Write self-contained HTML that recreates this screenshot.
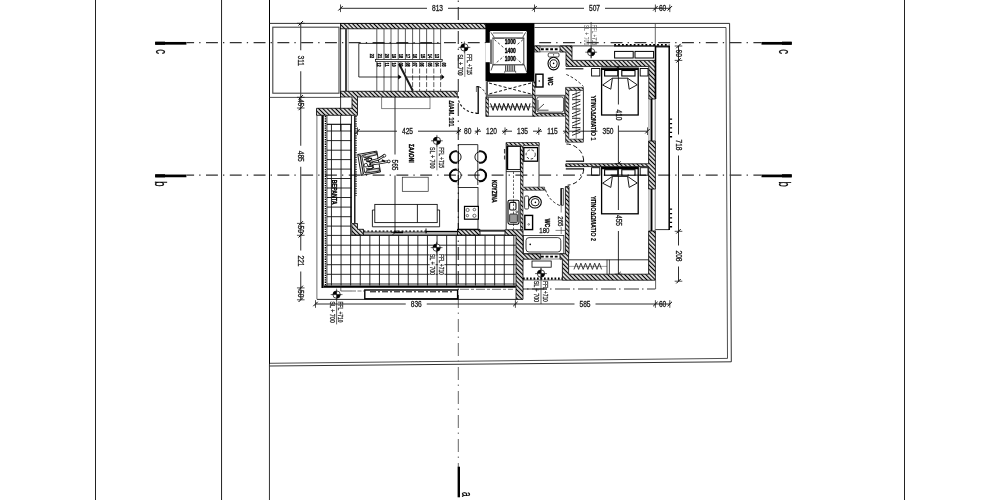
<!DOCTYPE html>
<html><head><meta charset="utf-8"><title>Floor plan</title>
<style>
html,body{margin:0;padding:0;background:#fff;}
body{width:1000px;height:500px;overflow:hidden;}
svg{display:block;filter:grayscale(1);font-family:"Liberation Sans",sans-serif;}
</style></head><body>
<svg width="1000" height="500" viewBox="0 0 1000 500">
<defs>
<pattern id="h" width="3" height="3" patternUnits="userSpaceOnUse" patternTransform="rotate(-45)">
<rect width="3" height="3" fill="#fff"/><line x1="1.5" y1="0" x2="1.5" y2="3" stroke="#000" stroke-width="1.3"/>
</pattern>
</defs>
<rect width="1000" height="500" fill="#fff"/>
<line x1="95.5" y1="0" x2="95.5" y2="500" stroke="#222" stroke-width="1" />
<line x1="221.55" y1="0" x2="221.55" y2="500" stroke="#222" stroke-width="1" />
<line x1="269.5" y1="0" x2="269.5" y2="364" stroke="#000" stroke-width="1" />
<line x1="269.45" y1="364" x2="269.45" y2="500" stroke="#333" stroke-width="1.0" />
<line x1="904.5" y1="0" x2="904.5" y2="500" stroke="#222" stroke-width="1" />
<path d="M269.5 23.4 L729.6 23.4 L731.3 361.8 L269.5 366" stroke="#1a1a1a" stroke-width="0.9" fill="none" />
<path d="M534.5 27.5 L726 27.5 L727.5 358.4 L269.5 363.3" stroke="#222" stroke-width="0.8" fill="none" />
<line x1="655.3" y1="23.3" x2="655.3" y2="46" stroke="#444" stroke-width="0.8" />
<line x1="186.5" y1="42.5" x2="761.5" y2="42.5" stroke="#333" stroke-width="1.25" stroke-dasharray="11.9 5.1 1.3 5.5" stroke-dashoffset="4.3"/>
<line x1="155.2" y1="43.3" x2="186.4" y2="43.3" stroke="#000" stroke-width="2.7" />
<line x1="155.2" y1="43.2" x2="165" y2="43.2" stroke="#000" stroke-width="3.1" />
<line x1="761.5" y1="43.3" x2="791.7" y2="43.3" stroke="#000" stroke-width="2.7" />
<line x1="782" y1="43.2" x2="791.7" y2="43.2" stroke="#000" stroke-width="3.1" />
<line x1="186.5" y1="175.1" x2="761.5" y2="175.1" stroke="#333" stroke-width="1.25" stroke-dasharray="11.9 5.1 1.3 5.5" stroke-dashoffset="4.3"/>
<line x1="155.2" y1="175.9" x2="186.4" y2="175.9" stroke="#000" stroke-width="2.7" />
<line x1="155.2" y1="175.79999999999998" x2="165" y2="175.79999999999998" stroke="#000" stroke-width="3.1" />
<line x1="761.5" y1="175.9" x2="791.7" y2="175.9" stroke="#000" stroke-width="2.7" />
<line x1="782" y1="175.79999999999998" x2="791.7" y2="175.79999999999998" stroke="#000" stroke-width="3.1" />
<text transform="translate(161.3 51.5) rotate(90) scale(0.6 1)" font-size="15.8" text-anchor="middle" fill="#000" stroke="#000" stroke-width="0.3" font-weight="normal" dy="0.36em">c</text>
<text transform="translate(785 51.6) rotate(90) scale(0.6 1)" font-size="15.8" text-anchor="middle" fill="#000" stroke="#000" stroke-width="0.3" font-weight="normal" dy="0.36em">c</text>
<text transform="translate(160.7 184) rotate(90) scale(0.6 1)" font-size="15.8" text-anchor="middle" fill="#000" stroke="#000" stroke-width="0.3" font-weight="normal" dy="0.36em">b</text>
<text transform="translate(784.6 184.2) rotate(90) scale(0.6 1)" font-size="15.8" text-anchor="middle" fill="#000" stroke="#000" stroke-width="0.3" font-weight="normal" dy="0.36em">b</text>
<line x1="458.3" y1="0" x2="458.3" y2="300" stroke="#444" stroke-width="1.2" stroke-dasharray="13 4.5 1.5 5" stroke-dashoffset="17"/>
<line x1="458.3" y1="300" x2="458.3" y2="467" stroke="#666" stroke-width="1.0" stroke-dasharray="13 4.5 1.5 5" stroke-dashoffset="5"/>
<line x1="458.8" y1="466.7" x2="458.8" y2="497.3" stroke="#000" stroke-width="2.4" />
<text transform="translate(467.3 494.4) rotate(90) scale(0.58 1)" font-size="14.5" text-anchor="middle" fill="#000" stroke="#000" stroke-width="0.3" font-weight="normal" dy="0.36em">a</text>
<line x1="340.5" y1="8.3" x2="427.0" y2="8.3" stroke="#222" stroke-width="0.95" />
<line x1="448.0" y1="8.3" x2="584.0" y2="8.3" stroke="#222" stroke-width="0.95" />
<line x1="605.0" y1="8.3" x2="662.6" y2="8.3" stroke="#222" stroke-width="0.95" />
<line x1="662.6" y1="8.3" x2="670" y2="8.3" stroke="#222" stroke-width="0.95" />
<line x1="338.3" y1="10.5" x2="342.7" y2="6.1000000000000005" stroke="#000" stroke-width="1.0" />
<line x1="340.5" y1="4.500000000000001" x2="340.5" y2="12.100000000000001" stroke="#222" stroke-width="0.8" />
<line x1="532.3" y1="10.5" x2="536.7" y2="6.1000000000000005" stroke="#000" stroke-width="1.0" />
<line x1="534.5" y1="4.500000000000001" x2="534.5" y2="12.100000000000001" stroke="#222" stroke-width="0.8" />
<line x1="653.1999999999999" y1="10.5" x2="657.6" y2="6.1000000000000005" stroke="#000" stroke-width="1.0" />
<line x1="655.4" y1="4.500000000000001" x2="655.4" y2="12.100000000000001" stroke="#222" stroke-width="0.8" />
<line x1="667.5999999999999" y1="10.5" x2="672.0" y2="6.1000000000000005" stroke="#000" stroke-width="1.0" />
<line x1="669.8" y1="4.500000000000001" x2="669.8" y2="12.100000000000001" stroke="#222" stroke-width="0.8" />
<text transform="translate(437.5 8.100000000000001) scale(0.8 1)" font-size="8.3" text-anchor="middle" fill="#1a1a1a" stroke="#1a1a1a" stroke-width="0.3" font-weight="normal" dy="0.36em">813</text>
<text transform="translate(594.5 8.100000000000001) scale(0.8 1)" font-size="8.3" text-anchor="middle" fill="#1a1a1a" stroke="#1a1a1a" stroke-width="0.3" font-weight="normal" dy="0.36em">507</text>
<text transform="translate(662.6 8.100000000000001) scale(0.8 1)" font-size="8.3" text-anchor="middle" fill="#1a1a1a" stroke="#1a1a1a" stroke-width="0.3" font-weight="normal" dy="0.36em">60</text>
<line x1="315.5" y1="304" x2="405.75" y2="304" stroke="#222" stroke-width="0.95" />
<line x1="426.75" y1="304" x2="574.5" y2="304" stroke="#222" stroke-width="0.95" />
<line x1="595.5" y1="304" x2="662.6" y2="304" stroke="#222" stroke-width="0.95" />
<line x1="662.6" y1="304" x2="670" y2="304" stroke="#222" stroke-width="0.95" />
<line x1="313.3" y1="306.2" x2="317.7" y2="301.8" stroke="#000" stroke-width="1.0" />
<line x1="315.5" y1="300.2" x2="315.5" y2="307.8" stroke="#222" stroke-width="0.8" />
<line x1="513.1999999999999" y1="306.2" x2="517.6" y2="301.8" stroke="#000" stroke-width="1.0" />
<line x1="515.4" y1="300.2" x2="515.4" y2="307.8" stroke="#222" stroke-width="0.8" />
<line x1="653.1999999999999" y1="306.2" x2="657.6" y2="301.8" stroke="#000" stroke-width="1.0" />
<line x1="655.4" y1="300.2" x2="655.4" y2="307.8" stroke="#222" stroke-width="0.8" />
<line x1="667.5999999999999" y1="306.2" x2="672.0" y2="301.8" stroke="#000" stroke-width="1.0" />
<line x1="669.8" y1="300.2" x2="669.8" y2="307.8" stroke="#222" stroke-width="0.8" />
<text transform="translate(416.25 303.8) scale(0.8 1)" font-size="8.3" text-anchor="middle" fill="#1a1a1a" stroke="#1a1a1a" stroke-width="0.3" font-weight="normal" dy="0.36em">836</text>
<text transform="translate(585 303.8) scale(0.8 1)" font-size="8.3" text-anchor="middle" fill="#1a1a1a" stroke="#1a1a1a" stroke-width="0.3" font-weight="normal" dy="0.36em">585</text>
<text transform="translate(662.6 303.8) scale(0.8 1)" font-size="8.3" text-anchor="middle" fill="#1a1a1a" stroke="#1a1a1a" stroke-width="0.3" font-weight="normal" dy="0.36em">60</text>
<line x1="300.75" y1="23.3" x2="300.75" y2="50.25" stroke="#222" stroke-width="0.95" />
<line x1="300.75" y1="71.25" x2="300.75" y2="102.6" stroke="#222" stroke-width="0.95" />
<line x1="300.75" y1="102.6" x2="300.75" y2="145.75" stroke="#222" stroke-width="0.95" />
<line x1="300.75" y1="166.75" x2="300.75" y2="229.3" stroke="#222" stroke-width="0.95" />
<line x1="300.75" y1="229.3" x2="300.75" y2="250.5" stroke="#222" stroke-width="0.95" />
<line x1="300.75" y1="271.5" x2="300.75" y2="293.8" stroke="#222" stroke-width="0.95" />
<line x1="300.75" y1="293.8" x2="300.75" y2="299.8" stroke="#222" stroke-width="0.95" />
<line x1="298.55" y1="25.5" x2="302.95" y2="21.1" stroke="#000" stroke-width="1.0" />
<line x1="296.95" y1="23.3" x2="304.55" y2="23.3" stroke="#222" stroke-width="0.8" />
<line x1="298.55" y1="99.5" x2="302.95" y2="95.1" stroke="#000" stroke-width="1.0" />
<line x1="296.95" y1="97.3" x2="304.55" y2="97.3" stroke="#222" stroke-width="0.8" />
<line x1="298.55" y1="110.2" x2="302.95" y2="105.8" stroke="#000" stroke-width="1.0" />
<line x1="296.95" y1="108" x2="304.55" y2="108" stroke="#222" stroke-width="0.8" />
<line x1="298.55" y1="225.6" x2="302.95" y2="221.20000000000002" stroke="#000" stroke-width="1.0" />
<line x1="296.95" y1="223.4" x2="304.55" y2="223.4" stroke="#222" stroke-width="0.8" />
<line x1="298.55" y1="237.5" x2="302.95" y2="233.10000000000002" stroke="#000" stroke-width="1.0" />
<line x1="296.95" y1="235.3" x2="304.55" y2="235.3" stroke="#222" stroke-width="0.8" />
<line x1="298.55" y1="290.09999999999997" x2="302.95" y2="285.7" stroke="#000" stroke-width="1.0" />
<line x1="296.95" y1="287.9" x2="304.55" y2="287.9" stroke="#222" stroke-width="0.8" />
<line x1="298.55" y1="302.0" x2="302.95" y2="297.6" stroke="#000" stroke-width="1.0" />
<line x1="296.95" y1="299.8" x2="304.55" y2="299.8" stroke="#222" stroke-width="0.8" />
<text transform="translate(300.95 60.75) rotate(90) scale(0.8 1)" font-size="8.3" text-anchor="middle" fill="#1a1a1a" stroke="#1a1a1a" stroke-width="0.3" font-weight="normal" dy="0.36em">311</text>
<text transform="translate(300.95 102.6) rotate(90) scale(0.8 1)" font-size="8.3" text-anchor="middle" fill="#1a1a1a" stroke="#1a1a1a" stroke-width="0.3" font-weight="normal" dy="0.36em">45</text>
<text transform="translate(300.95 156.25) rotate(90) scale(0.8 1)" font-size="8.3" text-anchor="middle" fill="#1a1a1a" stroke="#1a1a1a" stroke-width="0.3" font-weight="normal" dy="0.36em">485</text>
<text transform="translate(300.95 229.3) rotate(90) scale(0.8 1)" font-size="8.3" text-anchor="middle" fill="#1a1a1a" stroke="#1a1a1a" stroke-width="0.3" font-weight="normal" dy="0.36em">50</text>
<text transform="translate(300.95 261) rotate(90) scale(0.8 1)" font-size="8.3" text-anchor="middle" fill="#1a1a1a" stroke="#1a1a1a" stroke-width="0.3" font-weight="normal" dy="0.36em">221</text>
<text transform="translate(300.95 293.8) rotate(90) scale(0.8 1)" font-size="8.3" text-anchor="middle" fill="#1a1a1a" stroke="#1a1a1a" stroke-width="0.3" font-weight="normal" dy="0.36em">50</text>
<line x1="678.5" y1="46" x2="678.5" y2="53.2" stroke="#222" stroke-width="0.95" />
<line x1="678.5" y1="53.2" x2="678.5" y2="134.5" stroke="#222" stroke-width="0.95" />
<line x1="678.5" y1="155.5" x2="678.5" y2="245.5" stroke="#222" stroke-width="0.95" />
<line x1="678.5" y1="266.5" x2="678.5" y2="281.2" stroke="#222" stroke-width="0.95" />
<line x1="676.3" y1="48.2" x2="680.7" y2="43.8" stroke="#000" stroke-width="1.0" />
<line x1="674.7" y1="46" x2="682.3" y2="46" stroke="#222" stroke-width="0.8" />
<line x1="676.3" y1="62.6" x2="680.7" y2="58.199999999999996" stroke="#000" stroke-width="1.0" />
<line x1="674.7" y1="60.4" x2="682.3" y2="60.4" stroke="#222" stroke-width="0.8" />
<line x1="676.3" y1="233.5" x2="680.7" y2="229.10000000000002" stroke="#000" stroke-width="1.0" />
<line x1="674.7" y1="231.3" x2="682.3" y2="231.3" stroke="#222" stroke-width="0.8" />
<line x1="676.3" y1="283.4" x2="680.7" y2="279.0" stroke="#000" stroke-width="1.0" />
<line x1="674.7" y1="281.2" x2="682.3" y2="281.2" stroke="#222" stroke-width="0.8" />
<text transform="translate(678.7 53.2) rotate(90) scale(0.8 1)" font-size="8.3" text-anchor="middle" fill="#1a1a1a" stroke="#1a1a1a" stroke-width="0.3" font-weight="normal" dy="0.36em">60</text>
<text transform="translate(678.7 145) rotate(90) scale(0.8 1)" font-size="8.3" text-anchor="middle" fill="#1a1a1a" stroke="#1a1a1a" stroke-width="0.3" font-weight="normal" dy="0.36em">718</text>
<text transform="translate(678.7 256) rotate(90) scale(0.8 1)" font-size="8.3" text-anchor="middle" fill="#1a1a1a" stroke="#1a1a1a" stroke-width="0.3" font-weight="normal" dy="0.36em">208</text>
<line x1="357.5" y1="131.2" x2="397.0" y2="131.2" stroke="#222" stroke-width="0.95" />
<line x1="418.0" y1="131.2" x2="460.8" y2="131.2" stroke="#222" stroke-width="0.95" />
<line x1="474.8" y1="131.2" x2="481.0" y2="131.2" stroke="#222" stroke-width="0.95" />
<line x1="502.0" y1="131.2" x2="512.0" y2="131.2" stroke="#222" stroke-width="0.95" />
<line x1="533.0" y1="131.2" x2="542.0" y2="131.2" stroke="#222" stroke-width="0.95" />
<line x1="563.0" y1="131.2" x2="597.5" y2="131.2" stroke="#222" stroke-width="0.95" />
<line x1="618.5" y1="131.2" x2="647.5" y2="131.2" stroke="#222" stroke-width="0.95" />
<line x1="355.3" y1="133.39999999999998" x2="359.7" y2="129.0" stroke="#000" stroke-width="1.0" />
<line x1="357.5" y1="127.39999999999999" x2="357.5" y2="135.0" stroke="#222" stroke-width="0.8" />
<line x1="456.5" y1="133.39999999999998" x2="460.9" y2="129.0" stroke="#000" stroke-width="1.0" />
<line x1="458.7" y1="127.39999999999999" x2="458.7" y2="135.0" stroke="#222" stroke-width="0.8" />
<line x1="475.3" y1="133.39999999999998" x2="479.7" y2="129.0" stroke="#000" stroke-width="1.0" />
<line x1="477.5" y1="127.39999999999999" x2="477.5" y2="135.0" stroke="#222" stroke-width="0.8" />
<line x1="502.8" y1="133.39999999999998" x2="507.2" y2="129.0" stroke="#000" stroke-width="1.0" />
<line x1="505" y1="127.39999999999999" x2="505" y2="135.0" stroke="#222" stroke-width="0.8" />
<line x1="536.55" y1="133.39999999999998" x2="540.95" y2="129.0" stroke="#000" stroke-width="1.0" />
<line x1="538.75" y1="127.39999999999999" x2="538.75" y2="135.0" stroke="#222" stroke-width="0.8" />
<line x1="564.05" y1="133.39999999999998" x2="568.45" y2="129.0" stroke="#000" stroke-width="1.0" />
<line x1="566.25" y1="127.39999999999999" x2="566.25" y2="135.0" stroke="#222" stroke-width="0.8" />
<line x1="645.3" y1="133.39999999999998" x2="649.7" y2="129.0" stroke="#000" stroke-width="1.0" />
<line x1="647.5" y1="127.39999999999999" x2="647.5" y2="135.0" stroke="#222" stroke-width="0.8" />
<text transform="translate(407.5 131.0) scale(0.8 1)" font-size="8.3" text-anchor="middle" fill="#1a1a1a" stroke="#1a1a1a" stroke-width="0.3" font-weight="normal" dy="0.36em">425</text>
<text transform="translate(467.8 131.0) scale(0.8 1)" font-size="8.3" text-anchor="middle" fill="#1a1a1a" stroke="#1a1a1a" stroke-width="0.3" font-weight="normal" dy="0.36em">80</text>
<text transform="translate(491.5 131.0) scale(0.8 1)" font-size="8.3" text-anchor="middle" fill="#1a1a1a" stroke="#1a1a1a" stroke-width="0.3" font-weight="normal" dy="0.36em">120</text>
<text transform="translate(522.5 131.0) scale(0.8 1)" font-size="8.3" text-anchor="middle" fill="#1a1a1a" stroke="#1a1a1a" stroke-width="0.3" font-weight="normal" dy="0.36em">135</text>
<text transform="translate(552.5 131.0) scale(0.8 1)" font-size="8.3" text-anchor="middle" fill="#1a1a1a" stroke="#1a1a1a" stroke-width="0.3" font-weight="normal" dy="0.36em">115</text>
<text transform="translate(608 131.0) scale(0.8 1)" font-size="8.3" text-anchor="middle" fill="#1a1a1a" stroke="#1a1a1a" stroke-width="0.3" font-weight="normal" dy="0.36em">350</text>
<line x1="395" y1="97" x2="395" y2="154.5" stroke="#222" stroke-width="0.95" />
<line x1="395" y1="175.5" x2="395" y2="232.5" stroke="#222" stroke-width="0.95" />
<line x1="392.8" y1="234.7" x2="397.2" y2="230.3" stroke="#000" stroke-width="1.0" />
<line x1="391.2" y1="232.5" x2="398.8" y2="232.5" stroke="#222" stroke-width="0.8" />
<text transform="translate(395.2 165) rotate(90) scale(0.8 1)" font-size="8.3" text-anchor="middle" fill="#1a1a1a" stroke="#1a1a1a" stroke-width="0.3" font-weight="normal" dy="0.36em">565</text>
<line x1="395" y1="91.3" x2="395" y2="97" stroke="#222" stroke-width="0.7" />
<line x1="618.4" y1="66.4" x2="618.4" y2="104.5" stroke="#222" stroke-width="0.95" />
<line x1="618.4" y1="125.5" x2="618.4" y2="163.75" stroke="#222" stroke-width="0.95" />
<line x1="616.1999999999999" y1="68.60000000000001" x2="620.6" y2="64.2" stroke="#000" stroke-width="1.0" />
<line x1="614.6" y1="66.4" x2="622.1999999999999" y2="66.4" stroke="#222" stroke-width="0.8" />
<line x1="616.1999999999999" y1="165.95" x2="620.6" y2="161.55" stroke="#000" stroke-width="1.0" />
<line x1="614.6" y1="163.75" x2="622.1999999999999" y2="163.75" stroke="#222" stroke-width="0.8" />
<text transform="translate(618.6 115) rotate(90) scale(0.8 1)" font-size="8.3" text-anchor="middle" fill="#1a1a1a" stroke="#1a1a1a" stroke-width="0.3" font-weight="normal" dy="0.36em">410</text>
<line x1="618.4" y1="167.2" x2="618.4" y2="210.0" stroke="#222" stroke-width="0.95" />
<line x1="618.4" y1="231.0" x2="618.4" y2="274.2" stroke="#222" stroke-width="0.95" />
<line x1="616.1999999999999" y1="276.4" x2="620.6" y2="272.0" stroke="#000" stroke-width="1.0" />
<line x1="614.6" y1="274.2" x2="622.1999999999999" y2="274.2" stroke="#222" stroke-width="0.8" />
<text transform="translate(618.6 220.5) rotate(90) scale(0.8 1)" font-size="8.3" text-anchor="middle" fill="#1a1a1a" stroke="#1a1a1a" stroke-width="0.3" font-weight="normal" dy="0.36em">455</text>
<rect x="272.8" y="27.2" width="66.2" height="66.0" stroke="#444" stroke-width="1.1" fill="none" />
<line x1="269.5" y1="97.4" x2="340.5" y2="97.4" stroke="#222" stroke-width="0.8" />
<rect x="340.5" y="23.5" width="145.5" height="5.3" stroke="#000" stroke-width="0.8" fill="url(#h)" />
<line x1="340.6" y1="28.8" x2="340.6" y2="131" stroke="#000" stroke-width="0.8" />
<line x1="346" y1="28.8" x2="346" y2="91.3" stroke="#444" stroke-width="2.0" />
<line x1="348.2" y1="28.8" x2="348.2" y2="91.3" stroke="#555" stroke-width="0.5" />
<line x1="376.8" y1="28.8" x2="376.8" y2="59.6" stroke="#1a1a1a" stroke-width="0.7" />
<line x1="376.8" y1="61.6" x2="376.8" y2="91.3" stroke="#1a1a1a" stroke-width="0.7" />
<line x1="384" y1="28.8" x2="384" y2="59.6" stroke="#1a1a1a" stroke-width="0.7" />
<line x1="384" y1="61.6" x2="384" y2="91.3" stroke="#1a1a1a" stroke-width="0.7" />
<line x1="391" y1="28.8" x2="391" y2="59.6" stroke="#1a1a1a" stroke-width="0.7" />
<line x1="391" y1="61.6" x2="391" y2="91.3" stroke="#1a1a1a" stroke-width="0.7" />
<line x1="398.2" y1="28.8" x2="398.2" y2="59.6" stroke="#1a1a1a" stroke-width="0.7" />
<line x1="398.2" y1="61.6" x2="398.2" y2="91.3" stroke="#1a1a1a" stroke-width="0.7" />
<line x1="405.4" y1="28.8" x2="405.4" y2="59.6" stroke="#1a1a1a" stroke-width="0.7" />
<line x1="405.4" y1="68.5" x2="405.4" y2="76.32173913043472" stroke="#1a1a1a" stroke-width="0.7" stroke-dasharray="5 1.8"/>
<line x1="405.4" y1="61.6" x2="405.4" y2="67" stroke="#1a1a1a" stroke-width="0.7" />
<line x1="405.4" y1="76.32173913043472" x2="405.4" y2="91.3" stroke="#1a1a1a" stroke-width="0.7" />
<line x1="412.6" y1="28.8" x2="412.6" y2="59.6" stroke="#1a1a1a" stroke-width="0.7" />
<line x1="412.6" y1="68.5" x2="412.6" y2="90.40869565217393" stroke="#1a1a1a" stroke-width="0.7" stroke-dasharray="5 1.8"/>
<line x1="412.6" y1="61.6" x2="412.6" y2="67" stroke="#1a1a1a" stroke-width="0.7" />
<line x1="412.6" y1="90.40869565217393" x2="412.6" y2="91.3" stroke="#1a1a1a" stroke-width="0.7" />
<line x1="419.6" y1="28.8" x2="419.6" y2="59.6" stroke="#1a1a1a" stroke-width="0.7" />
<line x1="419.6" y1="61.6" x2="419.6" y2="67" stroke="#1a1a1a" stroke-width="0.7" />
<line x1="419.6" y1="68.5" x2="419.6" y2="91.3" stroke="#1a1a1a" stroke-width="0.7" stroke-dasharray="5 1.8"/>
<line x1="426.6" y1="28.8" x2="426.6" y2="59.6" stroke="#1a1a1a" stroke-width="0.7" />
<line x1="426.6" y1="61.6" x2="426.6" y2="67" stroke="#1a1a1a" stroke-width="0.7" />
<line x1="426.6" y1="68.5" x2="426.6" y2="91.3" stroke="#1a1a1a" stroke-width="0.7" stroke-dasharray="5 1.8"/>
<line x1="433.8" y1="28.8" x2="433.8" y2="59.6" stroke="#1a1a1a" stroke-width="0.7" />
<line x1="433.8" y1="61.6" x2="433.8" y2="67" stroke="#1a1a1a" stroke-width="0.7" />
<line x1="433.8" y1="68.5" x2="433.8" y2="91.3" stroke="#1a1a1a" stroke-width="0.7" stroke-dasharray="5 1.8"/>
<line x1="440.6" y1="28.8" x2="440.6" y2="59.6" stroke="#1a1a1a" stroke-width="0.7" />
<line x1="440.6" y1="61.6" x2="440.6" y2="67" stroke="#1a1a1a" stroke-width="0.7" />
<line x1="440.6" y1="68.5" x2="440.6" y2="91.3" stroke="#1a1a1a" stroke-width="0.7" stroke-dasharray="5 1.8"/>
<line x1="358.8" y1="43.4" x2="440.6" y2="43.4" stroke="#000" stroke-width="0.8" />
<line x1="358.8" y1="43.4" x2="358.8" y2="77" stroke="#000" stroke-width="0.8" />
<line x1="358.8" y1="77" x2="398.4" y2="77" stroke="#000" stroke-width="0.8" />
<path d="M398.2 74.4 L401.6 77 L398.2 79.6 Z" stroke="#000" stroke-width="0" fill="#000" />
<line x1="406.5" y1="77" x2="441.6" y2="77" stroke="#000" stroke-width="0.8" />
<path d="M441.4 74.2 L444.4 77 L441.4 79.8 Z" stroke="#000" stroke-width="0" fill="#000" />
<rect x="375.6" y="59.6" width="66.6" height="2.0" stroke="#000" stroke-width="0.7" fill="#fff" />
<line x1="399" y1="63.8" x2="412.8" y2="90.8" stroke="#1a1a1a" stroke-width="2.0" />
<text transform="translate(372.6 55.9) rotate(90) scale(0.64 1)" font-size="6" text-anchor="middle" fill="#000" stroke="#000" stroke-width="0.35" font-weight="bold" dy="0.36em">22</text>
<text transform="translate(379.6 64.6) rotate(90) scale(0.64 1)" font-size="6" text-anchor="middle" fill="#000" stroke="#000" stroke-width="0.35" font-weight="bold" dy="0.36em">12</text>
<text transform="translate(379.76000000000005 55.9) rotate(90) scale(0.64 1)" font-size="6" text-anchor="middle" fill="#000" stroke="#000" stroke-width="0.35" font-weight="bold" dy="0.36em">21</text>
<text transform="translate(386.76000000000005 64.6) rotate(90) scale(0.64 1)" font-size="6" text-anchor="middle" fill="#000" stroke="#000" stroke-width="0.35" font-weight="bold" dy="0.36em">11</text>
<text transform="translate(386.92 55.9) rotate(90) scale(0.64 1)" font-size="6" text-anchor="middle" fill="#000" stroke="#000" stroke-width="0.35" font-weight="bold" dy="0.36em">20</text>
<text transform="translate(393.92 64.6) rotate(90) scale(0.64 1)" font-size="6" text-anchor="middle" fill="#000" stroke="#000" stroke-width="0.35" font-weight="bold" dy="0.36em">10</text>
<text transform="translate(394.08000000000004 55.9) rotate(90) scale(0.64 1)" font-size="6" text-anchor="middle" fill="#000" stroke="#000" stroke-width="0.35" font-weight="bold" dy="0.36em">19</text>
<text transform="translate(401.08000000000004 64.6) rotate(90) scale(0.64 1)" font-size="6" text-anchor="middle" fill="#000" stroke="#000" stroke-width="0.35" font-weight="bold" dy="0.36em">09</text>
<text transform="translate(401.24 55.9) rotate(90) scale(0.64 1)" font-size="6" text-anchor="middle" fill="#000" stroke="#000" stroke-width="0.35" font-weight="bold" dy="0.36em">18</text>
<text transform="translate(408.24 64.6) rotate(90) scale(0.64 1)" font-size="6" text-anchor="middle" fill="#000" stroke="#000" stroke-width="0.35" font-weight="bold" dy="0.36em">08</text>
<text transform="translate(408.40000000000003 55.9) rotate(90) scale(0.64 1)" font-size="6" text-anchor="middle" fill="#000" stroke="#000" stroke-width="0.35" font-weight="bold" dy="0.36em">17</text>
<text transform="translate(415.40000000000003 64.6) rotate(90) scale(0.64 1)" font-size="6" text-anchor="middle" fill="#000" stroke="#000" stroke-width="0.35" font-weight="bold" dy="0.36em">07</text>
<text transform="translate(415.56 55.9) rotate(90) scale(0.64 1)" font-size="6" text-anchor="middle" fill="#000" stroke="#000" stroke-width="0.35" font-weight="bold" dy="0.36em">16</text>
<text transform="translate(422.56 64.6) rotate(90) scale(0.64 1)" font-size="6" text-anchor="middle" fill="#000" stroke="#000" stroke-width="0.35" font-weight="bold" dy="0.36em">06</text>
<text transform="translate(422.72 55.9) rotate(90) scale(0.64 1)" font-size="6" text-anchor="middle" fill="#000" stroke="#000" stroke-width="0.35" font-weight="bold" dy="0.36em">15</text>
<text transform="translate(429.72 64.6) rotate(90) scale(0.64 1)" font-size="6" text-anchor="middle" fill="#000" stroke="#000" stroke-width="0.35" font-weight="bold" dy="0.36em">05</text>
<text transform="translate(429.88 55.9) rotate(90) scale(0.64 1)" font-size="6" text-anchor="middle" fill="#000" stroke="#000" stroke-width="0.35" font-weight="bold" dy="0.36em">14</text>
<text transform="translate(436.88 64.6) rotate(90) scale(0.64 1)" font-size="6" text-anchor="middle" fill="#000" stroke="#000" stroke-width="0.35" font-weight="bold" dy="0.36em">04</text>
<text transform="translate(437.04 55.9) rotate(90) scale(0.64 1)" font-size="6" text-anchor="middle" fill="#000" stroke="#000" stroke-width="0.35" font-weight="bold" dy="0.36em">13</text>
<text transform="translate(444.04 64.6) rotate(90) scale(0.64 1)" font-size="6" text-anchor="middle" fill="#000" stroke="#000" stroke-width="0.35" font-weight="bold" dy="0.36em">03</text>
<rect x="381.75" y="97" width="48.25" height="11.75" stroke="#333" stroke-width="0.6" fill="none" />
<circle cx="464.4" cy="47.4" r="3.7" stroke="#000" stroke-width="0.7" fill="#fff" />
<path d="M464.4 47.4 L464.4 43.699999999999996 A3.7 3.7 0 0 0 460.7 47.4 Z" stroke="#000" stroke-width="0" fill="#000" />
<path d="M464.4 47.4 L464.4 51.1 A3.7 3.7 0 0 0 468.09999999999997 47.4 Z" stroke="#000" stroke-width="0" fill="#000" />
<line x1="458.5" y1="47.4" x2="470.29999999999995" y2="47.4" stroke="#000" stroke-width="0.6" />
<line x1="464.4" y1="41.49999999999999" x2="464.4" y2="53.300000000000004" stroke="#000" stroke-width="0.6" />
<line x1="464.8" y1="51" x2="464.8" y2="77" stroke="#333" stroke-width="0.6" />
<text transform="translate(469.2 64.4) rotate(90) scale(0.68 1)" font-size="7.2" text-anchor="middle" fill="#2a2a2a" stroke="#2a2a2a" stroke-width="0.3" font-weight="normal" dy="0.36em">FFL +715</text>
<text transform="translate(461.1 64.9) rotate(90) scale(0.745 1)" font-size="7.2" text-anchor="middle" fill="#2a2a2a" stroke="#2a2a2a" stroke-width="0.3" font-weight="normal" dy="0.36em">SL + 700</text>
<path d="M458 96 A18.5 17 0 0 0 476.4 113" stroke="#111" stroke-width="1.1" fill="none" stroke-dasharray="2.4 2"/>
<path d="M476.4 86.6 L478.2 86.6 L478.2 113.4 L475.8 113.4" stroke="#111" stroke-width="1.4" fill="none" />
<line x1="476.4" y1="86.6" x2="476.4" y2="92" stroke="#333" stroke-width="0.7" />
<path d="M479 86.8 Q483.4 88.4 485.8 94.4" stroke="#111" stroke-width="0.9" fill="none" stroke-dasharray="2.6 1.8"/>
<text transform="translate(451.2 113.4) rotate(90) scale(0.77 1)" font-size="7.2" text-anchor="middle" fill="#000" stroke="#000" stroke-width="0.2" font-weight="bold" dy="0.36em">ΔΙΑΜ. 101</text>
<path d="M340.5 91.3 L457.2 91.3 L457.2 97 L357.5 97 L357.5 115.3 L316.5 115.3 L316.5 108.3 L352 108.3 L352 97 L340.5 97 Z" stroke="#000" stroke-width="0.8" fill="url(#h)"/>
<line x1="327" y1="131" x2="351.4" y2="131" stroke="#111" stroke-width="0.9" />
<line x1="327" y1="140.6" x2="351.4" y2="140.6" stroke="#111" stroke-width="0.9" />
<line x1="327" y1="150.2" x2="351.4" y2="150.2" stroke="#111" stroke-width="0.9" />
<line x1="327" y1="159.6" x2="351.4" y2="159.6" stroke="#111" stroke-width="0.9" />
<line x1="327" y1="169.1" x2="351.4" y2="169.1" stroke="#111" stroke-width="0.9" />
<line x1="327" y1="178.5" x2="351.4" y2="178.5" stroke="#111" stroke-width="0.9" />
<line x1="327" y1="188" x2="351.4" y2="188" stroke="#111" stroke-width="0.9" />
<line x1="327" y1="197.5" x2="351.4" y2="197.5" stroke="#111" stroke-width="0.9" />
<line x1="327" y1="207.1" x2="351.4" y2="207.1" stroke="#111" stroke-width="0.9" />
<line x1="327" y1="216.7" x2="351.4" y2="216.7" stroke="#111" stroke-width="0.9" />
<line x1="327" y1="226.1" x2="351.4" y2="226.1" stroke="#111" stroke-width="0.9" />
<line x1="327" y1="235.4" x2="515.8" y2="235.4" stroke="#111" stroke-width="0.9" />
<line x1="327" y1="245.2" x2="515.8" y2="245.2" stroke="#111" stroke-width="0.9" />
<line x1="327" y1="254.9" x2="515.8" y2="254.9" stroke="#111" stroke-width="0.9" />
<line x1="327" y1="264.7" x2="515.8" y2="264.7" stroke="#111" stroke-width="0.9" />
<line x1="327" y1="274.3" x2="515.8" y2="274.3" stroke="#111" stroke-width="0.9" />
<line x1="327" y1="284" x2="515.8" y2="284" stroke="#111" stroke-width="0.9" />
<line x1="331.45" y1="124.3" x2="331.45" y2="285.5" stroke="#111" stroke-width="0.9" />
<line x1="341.05" y1="124.3" x2="341.05" y2="285.5" stroke="#111" stroke-width="0.9" />
<line x1="350.65" y1="124.3" x2="350.65" y2="285.5" stroke="#111" stroke-width="0.9" />
<line x1="360.25" y1="235.3" x2="360.25" y2="285.5" stroke="#111" stroke-width="0.9" />
<line x1="369.84999999999997" y1="235.3" x2="369.84999999999997" y2="285.5" stroke="#111" stroke-width="0.9" />
<line x1="379.45" y1="235.3" x2="379.45" y2="285.5" stroke="#111" stroke-width="0.9" />
<line x1="389.04999999999995" y1="235.3" x2="389.04999999999995" y2="285.5" stroke="#111" stroke-width="0.9" />
<line x1="398.65" y1="235.3" x2="398.65" y2="285.5" stroke="#111" stroke-width="0.9" />
<line x1="408.25" y1="235.3" x2="408.25" y2="285.5" stroke="#111" stroke-width="0.9" />
<line x1="417.84999999999997" y1="235.3" x2="417.84999999999997" y2="285.5" stroke="#111" stroke-width="0.9" />
<line x1="427.45" y1="235.3" x2="427.45" y2="285.5" stroke="#111" stroke-width="0.9" />
<line x1="437.04999999999995" y1="235.3" x2="437.04999999999995" y2="285.5" stroke="#111" stroke-width="0.9" />
<line x1="446.65" y1="235.3" x2="446.65" y2="285.5" stroke="#111" stroke-width="0.9" />
<line x1="456.25" y1="235.3" x2="456.25" y2="285.5" stroke="#111" stroke-width="0.9" />
<line x1="465.85" y1="235.3" x2="465.85" y2="285.5" stroke="#111" stroke-width="0.9" />
<line x1="475.45" y1="235.3" x2="475.45" y2="285.5" stroke="#111" stroke-width="0.9" />
<line x1="485.04999999999995" y1="235.3" x2="485.04999999999995" y2="285.5" stroke="#111" stroke-width="0.9" />
<line x1="494.65" y1="235.3" x2="494.65" y2="285.5" stroke="#111" stroke-width="0.9" />
<line x1="504.25" y1="235.3" x2="504.25" y2="285.5" stroke="#111" stroke-width="0.9" />
<line x1="513.85" y1="235.3" x2="513.85" y2="285.5" stroke="#111" stroke-width="0.9" />
<line x1="327" y1="124.3" x2="351.4" y2="124.3" stroke="#000" stroke-width="1.1" />
<line x1="316.9" y1="115.3" x2="316.9" y2="299" stroke="#333" stroke-width="0.7" />
<line x1="322.6" y1="115.3" x2="322.6" y2="288" stroke="#000" stroke-width="2.3" />
<line x1="325.4" y1="116" x2="325.4" y2="286" stroke="#000" stroke-width="1.3" stroke-dasharray="1.3 1.0"/>
<line x1="326.9" y1="115.3" x2="326.9" y2="287" stroke="#000" stroke-width="0.8" />
<line x1="351.4" y1="115.3" x2="351.4" y2="223.4" stroke="#000" stroke-width="0.9" />
<line x1="354.8" y1="116" x2="354.8" y2="223.4" stroke="#000" stroke-width="1.3" />
<line x1="356" y1="116" x2="356" y2="196" stroke="#000" stroke-width="1.3" stroke-dasharray="1.2 1.2"/>
<line x1="324" y1="286.6" x2="515.8" y2="286.6" stroke="#000" stroke-width="2.4" />
<line x1="316.9" y1="299.4" x2="516" y2="299.4" stroke="#111" stroke-width="0.9" />
<path d="M340.8 286 L340.8 291 L352 291" stroke="#222" stroke-width="0.7" fill="none" />
<line x1="352" y1="291" x2="364" y2="291" stroke="#666" stroke-width="0.9" stroke-dasharray="4 1.5"/>
<line x1="460" y1="289.3" x2="513" y2="289.3" stroke="#777" stroke-width="1.0" stroke-dasharray="9 2 3 2"/>
<rect x="364.8" y="290" width="92.8" height="8.8" stroke="#000" stroke-width="1.4" fill="#fff" />
<line x1="370" y1="291.8" x2="452" y2="291.8" stroke="#000" stroke-width="1.0" stroke-dasharray="6 2 2 2"/>
<circle cx="336.6" cy="294.6" r="3.7" stroke="#000" stroke-width="0.7" fill="#fff" />
<path d="M336.6 294.6 L336.6 290.90000000000003 A3.7 3.7 0 0 0 332.90000000000003 294.6 Z" stroke="#000" stroke-width="0" fill="#000" />
<path d="M336.6 294.6 L336.6 298.3 A3.7 3.7 0 0 0 340.3 294.6 Z" stroke="#000" stroke-width="0" fill="#000" />
<line x1="330.70000000000005" y1="294.6" x2="342.5" y2="294.6" stroke="#000" stroke-width="0.6" />
<line x1="336.6" y1="288.70000000000005" x2="336.6" y2="300.5" stroke="#000" stroke-width="0.6" />
<line x1="336.6" y1="299" x2="336.6" y2="324.4" stroke="#222" stroke-width="0.7" />
<text transform="translate(340.7 312) rotate(90) scale(0.68 1)" font-size="7.2" text-anchor="middle" fill="#2a2a2a" stroke="#2a2a2a" stroke-width="0.3" font-weight="normal" dy="0.36em">FFL +710</text>
<text transform="translate(332.5 312) rotate(90) scale(0.745 1)" font-size="7.2" text-anchor="middle" fill="#2a2a2a" stroke="#2a2a2a" stroke-width="0.3" font-weight="normal" dy="0.36em">SL + 700</text>
<circle cx="436.6" cy="247.6" r="3.7" stroke="#000" stroke-width="0.7" fill="#fff" />
<path d="M436.6 247.6 L436.6 243.9 A3.7 3.7 0 0 0 432.90000000000003 247.6 Z" stroke="#000" stroke-width="0" fill="#000" />
<path d="M436.6 247.6 L436.6 251.29999999999998 A3.7 3.7 0 0 0 440.3 247.6 Z" stroke="#000" stroke-width="0" fill="#000" />
<line x1="430.70000000000005" y1="247.6" x2="442.5" y2="247.6" stroke="#000" stroke-width="0.6" />
<line x1="436.6" y1="241.70000000000002" x2="436.6" y2="253.49999999999997" stroke="#000" stroke-width="0.6" />
<rect x="429.6" y="253.4" width="6.1" height="22" fill="#fff" fill-opacity="0.8"/>
<rect x="437.9" y="253.4" width="6.6" height="22" fill="#fff" fill-opacity="0.8"/>
<text transform="translate(441.2 264.4) rotate(90) scale(0.68 1)" font-size="7.2" text-anchor="middle" fill="#2a2a2a" stroke="#2a2a2a" stroke-width="0.3" font-weight="normal" dy="0.36em">FFL +710</text>
<text transform="translate(432.7 264.4) rotate(90) scale(0.745 1)" font-size="7.2" text-anchor="middle" fill="#2a2a2a" stroke="#2a2a2a" stroke-width="0.3" font-weight="normal" dy="0.36em">SL + 700</text>
<text transform="translate(335.2 192.2) rotate(90) scale(0.68 1)" font-size="7.8" text-anchor="middle" fill="#000" stroke="#000" stroke-width="0.35" font-weight="bold" dy="0.36em">ΒΕΡΑΝΤΑ</text>
<path d="M351.8 223.6 L357.5 223.6 L357.5 229.3 L363.5 229.3 L363.5 235 L351.8 235 Z" stroke="#000" stroke-width="0.8" fill="url(#h)"/>
<line x1="363.6" y1="231.1" x2="427" y2="231.1" stroke="#000" stroke-width="1.3" stroke-dasharray="1.8 2"/>
<line x1="426" y1="231.6" x2="457.5" y2="231.6" stroke="#000" stroke-width="1.5" />
<line x1="363.6" y1="232.1" x2="427" y2="232.1" stroke="#111" stroke-width="0.9" />
<line x1="363.6" y1="233.4" x2="457.5" y2="233.4" stroke="#666" stroke-width="0.5" />
<line x1="363.6" y1="235" x2="457.5" y2="235" stroke="#111" stroke-width="1.0" />
<rect x="457.5" y="229.8" width="22.5" height="5.2" stroke="#000" stroke-width="0.8" fill="url(#h)" />
<line x1="480" y1="230.7" x2="505" y2="230.7" stroke="#333" stroke-width="2.0" />
<line x1="480" y1="234.8" x2="505" y2="234.8" stroke="#222" stroke-width="0.7" />
<path d="M393.5 232.4 L403 232.4" stroke="#000" stroke-width="1.6" fill="none" />
<line x1="426" y1="228.5" x2="426" y2="233.5" stroke="#000" stroke-width="0.9" />
<circle cx="436.9" cy="140.8" r="3.7" stroke="#000" stroke-width="0.7" fill="#fff" />
<path d="M436.9 140.8 L436.9 137.10000000000002 A3.7 3.7 0 0 0 433.2 140.8 Z" stroke="#000" stroke-width="0" fill="#000" />
<path d="M436.9 140.8 L436.9 144.5 A3.7 3.7 0 0 0 440.59999999999997 140.8 Z" stroke="#000" stroke-width="0" fill="#000" />
<line x1="431.0" y1="140.8" x2="442.79999999999995" y2="140.8" stroke="#000" stroke-width="0.6" />
<line x1="436.9" y1="134.90000000000003" x2="436.9" y2="146.7" stroke="#000" stroke-width="0.6" />
<line x1="436.9" y1="143" x2="436.9" y2="170.3" stroke="#333" stroke-width="0.6" />
<text transform="translate(441.2 157.6) rotate(90) scale(0.68 1)" font-size="7.2" text-anchor="middle" fill="#2a2a2a" stroke="#2a2a2a" stroke-width="0.3" font-weight="normal" dy="0.36em">FFL +715</text>
<text transform="translate(432.7 157.8) rotate(90) scale(0.745 1)" font-size="7.2" text-anchor="middle" fill="#2a2a2a" stroke="#2a2a2a" stroke-width="0.3" font-weight="normal" dy="0.36em">SL + 700</text>
<text transform="translate(412.3 153.4) rotate(90) scale(0.64 1)" font-size="7.8" text-anchor="middle" fill="#000" stroke="#000" stroke-width="0.35" font-weight="bold" dy="0.36em">ΣΑΛΟΝΙ</text>
<rect x="402.3" y="177.2" width="25.9" height="14.1" stroke="#222" stroke-width="0.7" fill="none" />
<rect x="374.8" y="204.4" width="62.4" height="18.2" stroke="#111" stroke-width="0.9" fill="none" />
<path d="M374.8 210 L372.4 210 L372.4 226.8 L439.6 226.8 L439.6 210 L437.2 210" stroke="#111" stroke-width="0.9" fill="none" />
<line x1="417.4" y1="204.4" x2="417.4" y2="222.6" stroke="#111" stroke-width="0.9" />
<g transform="translate(369.2 163.2) rotate(-10)">
<rect x="-9.8" y="-10.6" width="19.4" height="21.2" stroke="#111" stroke-width="0.9" fill="#fff" />
<path d="M-9.8 -10.6 L-6 -8 L-6 8 L-9.8 10.6" stroke="#111" stroke-width="0.8" fill="none" />
<line x1="-7.6" y1="-9.4" x2="-7.6" y2="9.4" stroke="#222" stroke-width="1.2" />
<path d="M-5.6 -9 L9 -9.6 L9 -7 L-4 -6.2 Z" stroke="#111" stroke-width="0.8" fill="#999" />
<path d="M-5.6 9 L9 9.6 L9 6.6 L-3 6.2 Z" stroke="#111" stroke-width="0.8" fill="#999" />
<line x1="-2" y1="-8" x2="7" y2="-8.4" stroke="#fff" stroke-width="0.8" />
<line x1="-1" y1="7.8" x2="7" y2="8" stroke="#fff" stroke-width="0.8" />
<path d="M-4.5 -4 L0 -5.5 L3 -4 M-4 5 L1 6 L4 4.5 M-2.5 -2 L3 -1 M-2 3 L4 3.5 M3 -5 L3 5" stroke="#111" stroke-width="1.3" fill="none" />
<circle cx="-3.6" cy="1.4" r="1.8" stroke="#111" stroke-width="0.8" fill="#fff" />
<circle cx="-1.4" cy="-3.6" r="1.3" stroke="#111" stroke-width="0.7" fill="#888" />
<path d="M1 -1.6 L9 -2.2 L15.6 -4.6" stroke="#111" stroke-width="2.6" fill="none" stroke-linecap="round"/>
<path d="M1 1.2 L10 1.6 L19 1.6" stroke="#111" stroke-width="2.6" fill="none" stroke-linecap="round"/>
<path d="M2 -1.6 L9 -2.2 L15.2 -4.4" stroke="#fff" stroke-width="0.9" fill="none" stroke-linecap="round"/>
<path d="M2 1.2 L10 1.6 L18.6 1.6" stroke="#fff" stroke-width="0.9" fill="none" stroke-linecap="round"/>
<circle cx="16.2" cy="-4.8" r="1.4" stroke="#111" stroke-width="0.8" fill="#fff" />
<circle cx="19.6" cy="1.7" r="1.4" stroke="#111" stroke-width="0.8" fill="#fff" />
<line x1="13" y1="-1" x2="16" y2="1" stroke="#111" stroke-width="1.6" />
</g>
<circle cx="455.8" cy="157" r="5.3" stroke="#000" stroke-width="0.9" fill="none" />
<path d="M456.84000000000003 151.1 A6 6 0 1 0 456.84000000000003 162.9" stroke="#000" stroke-width="1.7" fill="none" />
<circle cx="480.2" cy="157" r="5.3" stroke="#000" stroke-width="0.9" fill="none" />
<path d="M479.15999999999997 151.1 A6 6 0 1 1 479.15999999999997 162.9" stroke="#000" stroke-width="1.7" fill="none" />
<circle cx="455.8" cy="175.4" r="5.3" stroke="#000" stroke-width="0.9" fill="none" />
<path d="M456.84000000000003 169.5 A6 6 0 1 0 456.84000000000003 181.3" stroke="#000" stroke-width="1.7" fill="none" />
<circle cx="480.2" cy="175.4" r="5.3" stroke="#000" stroke-width="0.9" fill="none" />
<path d="M479.15999999999997 169.5 A6 6 0 1 1 479.15999999999997 181.3" stroke="#000" stroke-width="1.7" fill="none" />
<path d="M458.3 185 L458.3 144.6 L477.8 144.6 L477.8 185" stroke="#000" stroke-width="0.8" fill="none" />
<rect x="458.3" y="187.6" width="19.7" height="41.6" stroke="#000" stroke-width="0.8" fill="none" />
<line x1="457" y1="229.4" x2="480" y2="229.4" stroke="#000" stroke-width="0.9" />
<rect x="464.5" y="206.4" width="13.9" height="12.8" stroke="#000" stroke-width="1.2" fill="#fff" />
<circle cx="467.6" cy="210" r="1.6" stroke="#111" stroke-width="0.6" fill="none" />
<circle cx="474.4" cy="209.6" r="1.3" stroke="#111" stroke-width="0.6" fill="none" />
<circle cx="467.4" cy="215.6" r="1.2" stroke="#111" stroke-width="0.6" fill="none" />
<circle cx="474.4" cy="215.8" r="1.6" stroke="#111" stroke-width="0.6" fill="none" />
<text transform="translate(494.6 191.4) rotate(90) scale(0.66 1)" font-size="7.8" text-anchor="middle" fill="#000" stroke="#000" stroke-width="0.35" font-weight="bold" dy="0.36em">ΚΟΥΖΙΝΑ</text>
<line x1="506.2" y1="145.6" x2="506.2" y2="229.8" stroke="#000" stroke-width="0.8" />
<line x1="539" y1="142.5" x2="539" y2="187" stroke="#000" stroke-width="0.8" />
<path d="M506 142.5 L539 142.5 L539 145.6 L523 145.6 L523 187.2 L544.6 187.2 L544.6 190.2 L523 190.2 L523 229.8 L520.5 229.8 L520.5 145.6 L506 145.6 Z" stroke="#000" stroke-width="0.6" fill="url(#h)"/>
<rect x="507" y="146.4" width="13.3" height="23.2" stroke="#000" stroke-width="0.9" fill="none" />
<line x1="507.4" y1="146.4" x2="507.4" y2="169.6" stroke="#000" stroke-width="1.6" />
<line x1="504.6" y1="149" x2="504.6" y2="153.5" stroke="#444" stroke-width="1.3" />
<line x1="504.6" y1="155.5" x2="504.6" y2="159.5" stroke="#444" stroke-width="1.3" />
<line x1="506.2" y1="171.6" x2="520.5" y2="171.6" stroke="#000" stroke-width="0.8" />
<line x1="513.5" y1="171.6" x2="513.5" y2="229.8" stroke="#222" stroke-width="0.7" stroke-dasharray="2.4 1.6"/>
<rect x="523.8" y="147.6" width="13.8" height="13.6" stroke="#000" stroke-width="1.3" fill="none" />
<circle cx="530.7" cy="154.4" r="4.6" stroke="#222" stroke-width="0.9" fill="none" stroke-dasharray="2.6 1.8"/>
<rect x="508" y="200.2" width="11" height="24" rx="1.6" stroke="#000" stroke-width="1.1" fill="none"/>
<rect x="509.6" y="202.4" width="6.4" height="7.6" rx="1.4" stroke="#111" stroke-width="1.1" fill="none"/>
<rect x="509.6" y="214" width="7.8" height="8.6" rx="1" stroke="#111" stroke-width="0.8" fill="#999"/>
<circle cx="516.8" cy="211.8" r="0.9" stroke="#000" stroke-width="0.6" fill="none" />
<rect x="485.5" y="23.2" width="48.9" height="58.0" stroke="#000" stroke-width="0" fill="#000" />
<rect x="489.8" y="31" width="37" height="42.3" rx="1.2" fill="#fff"/>
<rect x="485.3" y="42.8" width="4.9" height="19.4" stroke="#000" stroke-width="0" fill="#fff" />
<line x1="491" y1="39.5" x2="491" y2="64" stroke="#666" stroke-width="1.8" />
<line x1="493" y1="33" x2="523" y2="33" stroke="#222" stroke-width="0.7" />
<path d="M491 32.4 L494.4 37.6 M525.6 32.4 L522.6 37.6" stroke="#222" stroke-width="0.8" fill="none" />
<line x1="492.4" y1="38.2" x2="524.2" y2="38.2" stroke="#666" stroke-width="1.7" />
<line x1="492.4" y1="64.8" x2="524.2" y2="64.8" stroke="#666" stroke-width="1.5" />
<line x1="493" y1="38.2" x2="493" y2="64.8" stroke="#444" stroke-width="0.9" />
<line x1="523.8" y1="38.2" x2="523.8" y2="64.8" stroke="#222" stroke-width="0.9" />
<path d="M494.4 39.6 L523 64.4 M523 39.6 L494.4 64.4" stroke="#222" stroke-width="0.8" fill="none" stroke-dasharray="2.6 2"/>
<rect x="504" y="38.8" width="12.6" height="23.8" stroke="#000" stroke-width="0" fill="#fff" />
<text transform="translate(510.3 41.2) scale(0.72 1)" font-size="7" text-anchor="middle" fill="#000" stroke="#000" stroke-width="0.35" font-weight="bold" dy="0.36em">1000</text>
<text transform="translate(510.3 50.3) scale(0.72 1)" font-size="7" text-anchor="middle" fill="#000" stroke="#000" stroke-width="0.35" font-weight="bold" dy="0.36em">1400</text>
<text transform="translate(510.3 58.6) scale(0.72 1)" font-size="7" text-anchor="middle" fill="#000" stroke="#000" stroke-width="0.35" font-weight="bold" dy="0.36em">1000</text>
<line x1="505.6" y1="65.2" x2="505.6" y2="71.4" stroke="#222" stroke-width="0.9" />
<line x1="507.4" y1="65.2" x2="507.4" y2="71.4" stroke="#222" stroke-width="0.9" />
<line x1="509.2" y1="65.2" x2="509.2" y2="71.4" stroke="#222" stroke-width="0.9" />
<line x1="511" y1="65.2" x2="511" y2="71.4" stroke="#222" stroke-width="0.9" />
<line x1="512.8" y1="65.2" x2="512.8" y2="71.4" stroke="#222" stroke-width="0.9" />
<line x1="514.6" y1="65.2" x2="514.6" y2="71.4" stroke="#222" stroke-width="0.9" />
<rect x="504.8" y="71.2" width="11.0" height="2.4" stroke="#333" stroke-width="0.6" fill="#fff" />
<path d="M493 64.8 L491 70.5 M524.2 64.8 L526.6 72" stroke="#222" stroke-width="0.8" fill="none" />
<rect x="487.4" y="81.4" width="45.2" height="13.8" stroke="#222" stroke-width="0.8" fill="none" />
<line x1="486.6" y1="81.4" x2="486.6" y2="97" stroke="#666" stroke-width="1.6" />
<line x1="487" y1="95.6" x2="534" y2="95.6" stroke="#666" stroke-width="1.8" />
<path d="M489 83 L531 94 M531 83 L489 94" stroke="#111" stroke-width="1.0" fill="none" stroke-dasharray="3 2"/>
<rect x="486" y="97.2" width="49" height="19.0" stroke="#111" stroke-width="0.8" fill="none" />
<rect x="486" y="97.2" width="2.6" height="19.0" stroke="#000" stroke-width="0.5" fill="url(#h)" />
<line x1="488.6" y1="106.8" x2="532.6" y2="106.8" stroke="#333" stroke-width="0.6" />
<path d="M490.5 103.4 L493.1 110.4 L494.9 103.4 L497.5 110.4 L499.3 103.4 L501.9 110.4 L503.7 103.4 L506.3 110.4 L508.1 103.4 L510.7 110.4 L512.5 103.4 L515.1 110.4 L516.9 103.4 L519.5 110.4 L521.3 103.4 L523.9 110.4 L525.7 103.4 L528.3 110.4 L530.1 103.4" stroke="#111" stroke-width="1.0" fill="none" />
<path d="M532.6 81.4 L535 81.4 L535 113.6 L566 113.6 L566 116.2 L532.6 116.2 Z" stroke="#000" stroke-width="0.5" fill="url(#h)"/>
<line x1="534.5" y1="45.9" x2="655.3" y2="45.9" stroke="#000" stroke-width="0.8" />
<rect x="534.5" y="46" width="5.5" height="6" stroke="#000" stroke-width="0.6" fill="url(#h)" />
<line x1="540" y1="46.8" x2="560" y2="46.8" stroke="#333" stroke-width="0.6" />
<line x1="540" y1="51.8" x2="560" y2="51.8" stroke="#333" stroke-width="0.6" />
<line x1="541" y1="49.2" x2="559" y2="49.2" stroke="#000" stroke-width="1.9" stroke-dasharray="2.8 1.8"/>
<path d="M560 46 L572 46 L572 60.4 L655.4 60.4 L655.4 99 L648.8 99 L648.8 66.4 L566 66.4 L566 52 L560 52 Z" stroke="#000" stroke-width="0.8" fill="url(#h)"/>
<rect x="548.2" y="53" width="10.8" height="4" rx="1.2" stroke="#111" stroke-width="0.8" fill="#fff"/>
<ellipse cx="553.6" cy="63.6" rx="5.6" ry="6.3" stroke="#000" stroke-width="1.1" fill="#fff"/>
<ellipse cx="553.6" cy="63.8" rx="3.6" ry="4" stroke="#000" stroke-width="0.9" fill="none"/>
<circle cx="553.6" cy="63.4" r="0.8" stroke="#000" stroke-width="0" fill="#000" />
<circle cx="553.6" cy="54.8" r="0.6" stroke="#000" stroke-width="0" fill="#000" />
<rect x="535.8" y="74.2" width="7.2" height="12.8" stroke="#000" stroke-width="1.4" fill="none" />
<circle cx="539.3" cy="81" r="0.8" stroke="#000" stroke-width="0" fill="#000" />
<text transform="translate(551 81.2) rotate(90) scale(0.66 1)" font-size="7.8" text-anchor="middle" fill="#000" stroke="#000" stroke-width="0.35" font-weight="bold" dy="0.36em">WC</text>
<line x1="565.6" y1="68.8" x2="583.4" y2="68.8" stroke="#000" stroke-width="1.1" />
<path d="M566.4 74.5 Q575 78 583.4 86.4" stroke="#111" stroke-width="0.9" fill="none" stroke-dasharray="2.8 2"/>
<rect x="535.6" y="95.4" width="29.0" height="18.0" stroke="#333" stroke-width="0.9" fill="none" />
<line x1="536" y1="95.6" x2="564.4" y2="95.6" stroke="#666" stroke-width="1.6" />
<rect x="536.8" y="97" width="26.8" height="15.2" rx="2.2" stroke="#222" stroke-width="0.8" fill="none"/>
<path d="M538 100 L538 110.2 L548.5 110.2 M537.4 110 L544 104" stroke="#333" stroke-width="0.9" fill="none" />
<rect x="614.6" y="51.4" width="18.6" height="6.6" stroke="#000" stroke-width="1.0" fill="none" />
<rect x="635" y="51.4" width="18.6" height="6.6" stroke="#000" stroke-width="1.0" fill="none" />
<line x1="614" y1="46" x2="669.8" y2="46" stroke="#000" stroke-width="1.1" />
<line x1="614.2" y1="44.9" x2="669.4" y2="44.9" stroke="#000" stroke-width="1.7" stroke-dasharray="1.8 2.1"/>
<line x1="655" y1="46.8" x2="669.8" y2="46.8" stroke="#000" stroke-width="1.2" />
<circle cx="591.2" cy="52.2" r="3.7" stroke="#000" stroke-width="0.7" fill="#fff" />
<path d="M591.2 52.2 L591.2 48.5 A3.7 3.7 0 0 0 587.5 52.2 Z" stroke="#000" stroke-width="0" fill="#000" />
<path d="M591.2 52.2 L591.2 55.900000000000006 A3.7 3.7 0 0 0 594.9000000000001 52.2 Z" stroke="#000" stroke-width="0" fill="#000" />
<line x1="585.3" y1="52.2" x2="597.1000000000001" y2="52.2" stroke="#000" stroke-width="0.6" />
<line x1="591.2" y1="46.3" x2="591.2" y2="58.10000000000001" stroke="#000" stroke-width="0.6" />
<text transform="translate(595 35) rotate(90) scale(0.66 1)" font-size="7.2" text-anchor="middle" fill="#555" stroke="#555" stroke-width="0" font-weight="normal" dy="0.36em">FFL +715</text>
<text transform="translate(586.8 35) rotate(90) scale(0.72 1)" font-size="7.2" text-anchor="middle" fill="#555" stroke="#555" stroke-width="0" font-weight="normal" dy="0.36em">SL + 700</text>
<line x1="591.1" y1="22" x2="591.1" y2="58.4" stroke="#222" stroke-width="0.7" />
<rect x="601.6" y="68.2" width="36.6" height="46.8" stroke="#000" stroke-width="1.3" fill="none" />
<rect x="591.6" y="68.5" width="8.2" height="7.5" stroke="#000" stroke-width="0.9" fill="none" />
<rect x="640.2" y="68.5" width="7.8" height="7.5" stroke="#000" stroke-width="0.9" fill="none" />
<rect x="604.6" y="70.5" width="13.2" height="5.5" stroke="#000" stroke-width="1.1" fill="none" />
<rect x="621.8" y="70.5" width="13.2" height="5.5" stroke="#000" stroke-width="1.1" fill="none" />
<line x1="601.6" y1="69.2" x2="638.2" y2="69.2" stroke="#000" stroke-width="1.6" />
<line x1="612.4" y1="78.2" x2="627.6" y2="78.2" stroke="#000" stroke-width="0.9" />
<path d="M602.6 85.0 L612.4 78.2 L610.8 89.2 Z" stroke="#000" stroke-width="0.9" fill="none" />
<path d="M627.6 78.2 L637.2 84.8 L629.2 89.2 Z" stroke="#000" stroke-width="0.9" fill="none" />
<rect x="601.6" y="167.4" width="36.6" height="46.4" stroke="#000" stroke-width="1.3" fill="none" />
<rect x="591.6" y="167.70000000000002" width="8.2" height="7.5" stroke="#000" stroke-width="0.9" fill="none" />
<rect x="640.2" y="167.70000000000002" width="7.8" height="7.5" stroke="#000" stroke-width="0.9" fill="none" />
<rect x="604.6" y="169.70000000000002" width="13.2" height="5.5" stroke="#000" stroke-width="1.1" fill="none" />
<rect x="621.8" y="169.70000000000002" width="13.2" height="5.5" stroke="#000" stroke-width="1.1" fill="none" />
<line x1="601.6" y1="168.4" x2="638.2" y2="168.4" stroke="#000" stroke-width="1.6" />
<line x1="612.4" y1="176.4" x2="627.6" y2="176.4" stroke="#000" stroke-width="0.9" />
<path d="M602.6 183.20000000000002 L612.4 176.4 L610.8 187.4 Z" stroke="#000" stroke-width="0.9" fill="none" />
<path d="M627.6 176.4 L637.2 183.0 L629.2 187.4 Z" stroke="#000" stroke-width="0.9" fill="none" />
<text transform="translate(593.9 118) rotate(90) scale(0.73 1)" font-size="7.4" text-anchor="middle" fill="#000" stroke="#000" stroke-width="0.12" font-weight="bold" dy="0.36em">ΥΠΝΟΔΩΜΑΤΙΟ 1</text>
<text transform="translate(593.9 218.5) rotate(90) scale(0.73 1)" font-size="7.4" text-anchor="middle" fill="#000" stroke="#000" stroke-width="0.12" font-weight="bold" dy="0.36em">ΥΠΝΟΔΩΜΑΤΙΟ 2</text>
<path d="M565.6 87.4 L583.4 87.4 L583.4 90.4 L568.8 90.4 L568.8 139.2 L583.4 139.2 L583.4 142.2 L565.6 142.2 Z" stroke="#000" stroke-width="0.6" fill="url(#h)"/>
<line x1="583.4" y1="90.4" x2="583.4" y2="139.2" stroke="#000" stroke-width="0.8" />
<line x1="576.2" y1="90.4" x2="576.2" y2="138.6" stroke="#333" stroke-width="0.6" />
<path d="M572 95.1 L580.4 91.9 M572 98.2 L580.4 95.0 M572 99.7 L580.4 99.7 M572 104.4 L580.4 101.2 M572 107.5 L580.4 104.3 M572 109.0 L580.4 109.0 M572 113.7 L580.4 110.5 M572 116.8 L580.4 113.6 M572 118.3 L580.4 118.3 M572 123.0 L580.4 119.8 M572 126.1 L580.4 122.9 M572 127.6 L580.4 127.6 M572 132.3 L580.4 129.1 M572 135.4 L580.4 132.2" stroke="#111" stroke-width="0.9" fill="none" />
<line x1="565.8" y1="161.2" x2="583.8" y2="161.2" stroke="#000" stroke-width="1.2" />
<line x1="565.8" y1="168.9" x2="583.8" y2="168.9" stroke="#000" stroke-width="1.2" />
<line x1="583.6" y1="159.6" x2="583.6" y2="161.8" stroke="#000" stroke-width="0.9" />
<line x1="583.6" y1="168.3" x2="583.6" y2="170.6" stroke="#000" stroke-width="0.9" />
<path d="M566.4 144 A17.6 17 0 0 1 583.6 160.6" stroke="#111" stroke-width="1.0" fill="none" stroke-dasharray="4.5 2.6"/>
<path d="M583.6 169.6 A17.6 16.4 0 0 1 567.6 185.2" stroke="#111" stroke-width="1.0" fill="none" stroke-dasharray="4.5 2.6"/>
<path d="M648.6 141 L655.4 141 L655.4 189 L648.6 189 L648.6 166.6 L565.8 166.6 L565.8 163.8 L648.6 163.8 Z" stroke="#000" stroke-width="0.8" fill="url(#h)"/>
<line x1="648.9" y1="99" x2="648.9" y2="141" stroke="#333" stroke-width="0.5" />
<line x1="651.5" y1="99" x2="651.5" y2="141" stroke="#000" stroke-width="1.9" />
<line x1="655.2" y1="99" x2="655.2" y2="141" stroke="#333" stroke-width="0.6" />
<line x1="648.9" y1="189" x2="648.9" y2="231" stroke="#333" stroke-width="0.5" />
<line x1="651.5" y1="189" x2="651.5" y2="231" stroke="#000" stroke-width="1.9" />
<line x1="655.2" y1="189" x2="655.2" y2="231" stroke="#333" stroke-width="0.6" />
<line x1="655.5" y1="46.4" x2="655.5" y2="99" stroke="#000" stroke-width="1.6" />
<line x1="669.2" y1="46" x2="669.2" y2="230" stroke="#000" stroke-width="1.5" />
<line x1="655.4" y1="229.6" x2="669.2" y2="229.6" stroke="#000" stroke-width="0.8" />
<line x1="671" y1="118.5" x2="671" y2="139.5" stroke="#000" stroke-width="2.2" stroke-dasharray="1.3 3.1"/>
<line x1="671" y1="208.5" x2="671" y2="229.5" stroke="#000" stroke-width="2.2" stroke-dasharray="1.3 3.1"/>
<rect x="524.6" y="196" width="4" height="13" rx="1.2" stroke="#111" stroke-width="0.8" fill="#fff"/>
<ellipse cx="535" cy="202.2" rx="6.3" ry="5.8" stroke="#000" stroke-width="1.1" fill="#fff"/>
<ellipse cx="535.2" cy="202.2" rx="4" ry="3.7" stroke="#000" stroke-width="0.9" fill="none"/>
<circle cx="535.4" cy="202.4" r="0.8" stroke="#000" stroke-width="0" fill="#000" />
<rect x="524.8" y="215.4" width="7.8" height="14.2" stroke="#000" stroke-width="1.4" fill="none" />
<circle cx="528.7" cy="224.4" r="0.8" stroke="#000" stroke-width="0.5" fill="none" />
<text transform="translate(548.2 223) rotate(90) scale(0.66 1)" font-size="7.8" text-anchor="middle" fill="#000" stroke="#000" stroke-width="0.35" font-weight="bold" dy="0.36em">WC</text>
<text transform="translate(561.2 221.4) rotate(90) scale(0.8 1)" font-size="7.6" text-anchor="middle" fill="#222" stroke="#222" stroke-width="0.3" font-weight="normal" dy="0.36em">265</text>
<text transform="translate(544.4 230.4) scale(0.8 1)" font-size="7.6" text-anchor="middle" fill="#222" stroke="#222" stroke-width="0.3" font-weight="normal" dy="0.36em">180</text>
<line x1="555.5" y1="230.4" x2="565" y2="230.4" stroke="#333" stroke-width="0.6" />
<line x1="561.2" y1="206" x2="561.2" y2="212.5" stroke="#333" stroke-width="0.6" />
<line x1="561.2" y1="227" x2="561.2" y2="234" stroke="#333" stroke-width="0.6" />
<rect x="561" y="188.4" width="2.2" height="16.8" stroke="#000" stroke-width="0.7" fill="none" />
<line x1="561.2" y1="188.4" x2="561.2" y2="205.2" stroke="#000" stroke-width="1.2" />
<path d="M545.4 189.6 Q549 201 560 205.6" stroke="#111" stroke-width="0.9" fill="none" stroke-dasharray="2.8 2"/>
<path d="M505 229.8 L523 229.8 L523 253.8 L540.4 253.8 L540.4 259.2 L523 259.2 L523 299.4 L516 299.4 L516 235.2 L505 235.2 Z" stroke="#000" stroke-width="0.8" fill="url(#h)"/>
<rect x="523.6" y="235.4" width="40.2" height="18.4" stroke="#222" stroke-width="0.8" fill="none" />
<rect x="526" y="237.6" width="34.8" height="14.4" rx="3" stroke="#111" stroke-width="0.8" fill="none"/>
<circle cx="530.2" cy="244.4" r="0.8" stroke="#000" stroke-width="0" fill="#000" />
<line x1="540.4" y1="254.2" x2="560" y2="254.2" stroke="#333" stroke-width="0.6" />
<line x1="540.4" y1="259" x2="560" y2="259" stroke="#333" stroke-width="0.6" />
<line x1="541" y1="256.6" x2="559.5" y2="256.6" stroke="#000" stroke-width="1.9" stroke-dasharray="2.8 1.8"/>
<path d="M648.6 231 L655.4 231 L655.4 280.2 L562.4 280.2 L562.4 259.2 L560 259.2 L560 253.8 L565.4 253.8 L565.4 186.6 L569 186.6 L569 253.8 L568.6 253.8 L568.6 274.2 L648.6 274.2 Z" stroke="#000" stroke-width="0.8" fill="url(#h)"/>
<rect x="532" y="261" width="19.2" height="6.2" stroke="#000" stroke-width="0.8" fill="none" />
<circle cx="541" cy="273.6" r="3.7" stroke="#000" stroke-width="0.7" fill="#fff" />
<path d="M541 273.6 L541 269.90000000000003 A3.7 3.7 0 0 0 537.3 273.6 Z" stroke="#000" stroke-width="0" fill="#000" />
<path d="M541 273.6 L541 277.3 A3.7 3.7 0 0 0 544.7 273.6 Z" stroke="#000" stroke-width="0" fill="#000" />
<line x1="535.0999999999999" y1="273.6" x2="546.9000000000001" y2="273.6" stroke="#000" stroke-width="0.6" />
<line x1="541" y1="267.70000000000005" x2="541" y2="279.5" stroke="#000" stroke-width="0.6" />
<line x1="523" y1="278.6" x2="562.4" y2="278.6" stroke="#000" stroke-width="2.2" stroke-dasharray="1.7 1.8"/>
<line x1="523" y1="280" x2="562.4" y2="280" stroke="#222" stroke-width="0.7" />
<line x1="541" y1="268" x2="541" y2="304" stroke="#222" stroke-width="0.7" />
<text transform="translate(545.5 291.4) rotate(90) scale(0.68 1)" font-size="7.2" text-anchor="middle" fill="#2a2a2a" stroke="#2a2a2a" stroke-width="0.3" font-weight="normal" dy="0.36em">FFL +710</text>
<text transform="translate(536.5 291.4) rotate(90) scale(0.745 1)" font-size="7.2" text-anchor="middle" fill="#2a2a2a" stroke="#2a2a2a" stroke-width="0.3" font-weight="normal" dy="0.36em">SL + 700</text>
<line x1="568.6" y1="259.8" x2="648.6" y2="259.8" stroke="#000" stroke-width="0.8" />
<line x1="568.6" y1="266.4" x2="607" y2="266.4" stroke="#444" stroke-width="0.5" />
<line x1="607" y1="259.8" x2="607" y2="274.2" stroke="#000" stroke-width="0.7" />
<line x1="609.4" y1="259.8" x2="609.4" y2="274.2" stroke="#000" stroke-width="0.7" />
<path d="M574 269.4 L576.3 263.2 L578.6 269.4 L580.9 263.2 L583.2 269.4 L585.5 263.2 L587.8 269.4 L590.1 263.2 L592.4 269.4 L594.7 263.2 L597.0 269.4 L599.3 263.2 L601.6 269.4" stroke="#111" stroke-width="0.8" fill="none" />
<line x1="523" y1="289" x2="655.4" y2="289" stroke="#222" stroke-width="0.9" stroke-dasharray="15 3 1.5 3.5" stroke-dashoffset="-9"/>
<line x1="523" y1="289" x2="547" y2="289" stroke="#222" stroke-width="0.9" />
<line x1="655.6" y1="280.2" x2="655.6" y2="289" stroke="#222" stroke-width="0.7" />
</svg>
</body></html>
